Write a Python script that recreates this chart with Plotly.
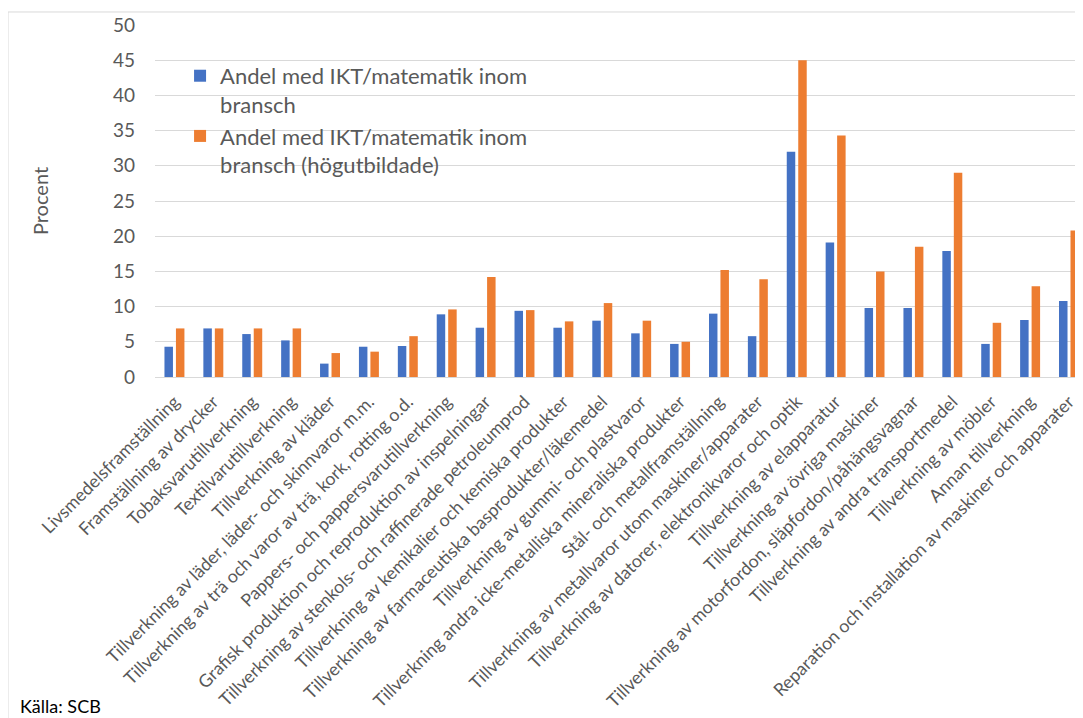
import plotly.graph_objects as go

categories = [
    "Livsmedelsframställning",
    "Framställning av drycker",
    "Tobaksvarutillverkning",
    "Textilvarutillverkning",
    "Tillverkning av kläder",
    "Tillverkning av läder, läder- och skinnvaror m.m.",
    "Tillverkning av trä och varor av trä, kork, rotting o.d.",
    "Pappers- och pappersvarutillverkning",
    "Grafisk produktion och reproduktion av inspelningar",
    "Tillverkning av stenkols- och raffinerade petroleumprod",
    "Tillverkning av kemikalier och kemiska produkter",
    "Tillverkning av farmaceutiska basprodukter/läkemedel",
    "Tillverkning av gummi- och plastvaror",
    "Tillverkning andra icke-metalliska mineraliska produkter",
    "Stål- och metallframställning",
    "Tillverkning av metallvaror utom maskiner/apparater",
    "Tillverkning av datorer, elektronikvaror och optik",
    "Tillverkning av elapparatur",
    "Tillverkning av övriga maskiner",
    "Tillverkning av motorfordon, släpfordon/påhängsvagnar",
    "Tillverkning av andra transportmedel",
    "Tillverkning av möbler",
    "Annan tillverkning",
    "Reparation och installation av maskiner och apparater",
]

andel = [4.3, 6.9, 6.1, 5.2, 1.9, 4.3, 4.4, 8.9, 7.0, 9.4, 7.0, 8.0,
         6.2, 4.7, 9.0, 5.8, 32.0, 19.1, 9.8, 9.8, 17.9, 4.7, 8.1, 10.8]
andel_hog = [6.9, 6.9, 6.9, 6.9, 3.4, 3.6, 5.8, 9.6, 14.2, 9.5, 7.9, 10.5,
             8.0, 5.0, 15.2, 13.9, 45.0, 34.3, 15.0, 18.5, 29.0, 7.7, 12.9, 20.8]

series_names = [
    "Andel med IKT/matematik inom<br>bransch",
    "Andel med IKT/matematik inom<br>bransch (högutbildade)",
]
colors = ["#4472C4", "#ED7D31"]
y_ticks = [0, 5, 10, 15, 20, 25, 30, 35, 40, 45, 50]

FONT = "Lato, 'Open Sans', sans-serif"
GREY = "#595959"

fig = go.Figure()
for name, vals, col in zip(series_names, [andel, andel_hog], colors):
    fig.add_trace(go.Bar(x=categories, y=vals, name=name, marker_color=col,
                         marker_line_width=0))

fig.update_layout(
    width=1075, height=710,
    margin=dict(l=147, r=0, t=17, b=341, autoexpand=False),
    paper_bgcolor="white", plot_bgcolor="white",
    barmode="group", bargap=0.41, bargroupgap=0.26,
    font=dict(family=FONT, color=GREY),
    showlegend=True,
    legend=dict(x=0.027, y=0.915, xanchor="left", yanchor="top",
                font=dict(size=22, color=GREY, family=FONT), valign="top",
                bgcolor="rgba(0,0,0,0)", tracegroupgap=0, itemwidth=30),
    xaxis=dict(range=[-0.5, 23.36], tickangle=-45, automargin=False,
               tickfont=dict(size=17.8, color=GREY, family=FONT),
               showgrid=False, showline=False, ticks="", ticklabelstandoff=10),
    yaxis=dict(range=[0, 50], tickvals=y_ticks, automargin=False,
               tickfont=dict(size=19, color=GREY, family=FONT),
               showgrid=True, gridcolor="#D9D9D9", gridwidth=1,
               zeroline=True, zerolinecolor="#D9D9D9", zerolinewidth=1,
               ticks="", ticklabelstandoff=19,
               title=dict(text="Procent", font=dict(size=20, color=GREY, family=FONT),
                          standoff=58)),
    shapes=[dict(type="rect", xref="paper", yref="paper",
                 x0=-0.1584, x1=1.2, y0=-1.2, y1=1.037,
                 line=dict(color="#D9D9D9", width=1), layer="below")],
    annotations=[dict(text="Källa: SCB", xref="paper", yref="paper",
                      x=-0.148, y=-0.935, xanchor="left", yanchor="middle",
                      showarrow=False, font=dict(size=18, color="black", family=FONT))],
)

fig.write_html("out.html")
